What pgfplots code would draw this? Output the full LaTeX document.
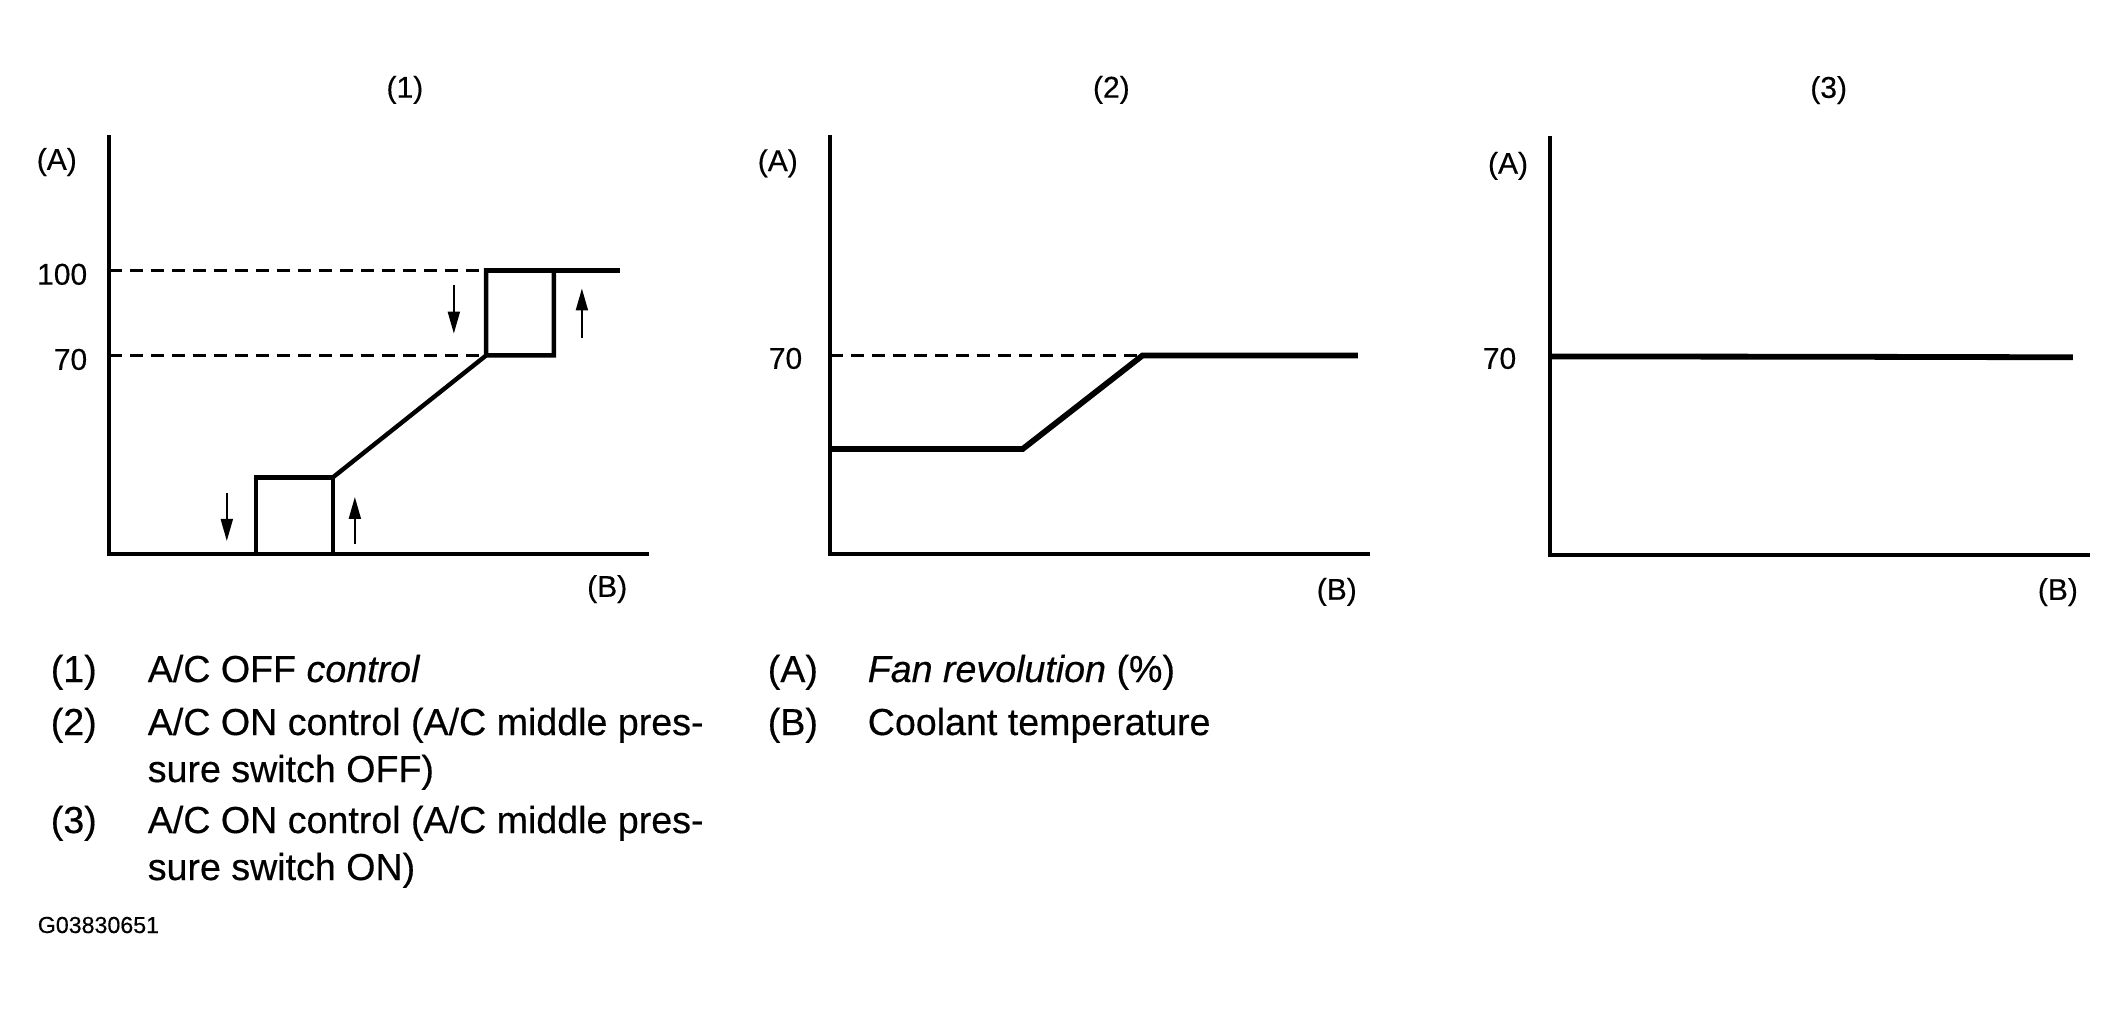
\documentclass[border=0pt]{standalone}
\usepackage{fontspec}
\setmainfont{Liberation Sans}[FakeBold=0.4]
\usepackage{pgfplots}
\pgfplotsset{compat=1.18}
\usetikzlibrary{arrows.meta}
\newcommand\axfont{\fontsize{7.5pt}{9pt}\selectfont}
\newcommand\legfont{\fontsize{9.4pt}{11pt}\selectfont}
\pgfplotsset{
 panel/.style={
  scale only axis, width=134.5pt, height=104.25pt, anchor=south west,
  xmin=0,xmax=100,ymin=0,ymax=147,
  axis lines*=left, axis line style={line width=0.9pt, line cap=rect},
  xtick=\empty, major tick length=0pt, ytick style={draw=none},
  clip=false,
  /pgf/number format/assume math mode=true,
  tick label style={font=\axfont},
  xlabel={(B)}, ylabel={(A)},
  xlabel style={font=\axfont},
 },
 curve/.style={black, line width=1.1pt, no marks},
 thick curve/.style={black, line width=1.45pt, no marks},
 dashline/.style={black, line width=0.75pt, dash pattern=on 3.25pt off 2pt, no marks},
 arr/.style={black, line width=0.5pt, no marks, -{Triangle[length=5.5pt,width=3pt]}},
}
\begin{document}
\begin{tikzpicture}
\useasboundingbox (0,0) rectangle (531pt,-252.25pt);
% ---------------- panel (1)
\begin{axis}[panel, at={(27.25pt,-138.5pt)},
  title={(1)},
  every axis title/.style={at={(axis description cs:0.55,1.113)},anchor=center,font=\axfont},
  xlabel style={at={(axis description cs:0.926,-0.084)},anchor=center},
  every axis y label/.style={at={(axis description cs:-0.097,0.94)},anchor=center,font=\axfont},
  ytick={70,100},
  yticklabel style={inner sep=0pt,anchor=east,xshift=-5.25pt,yshift=-1pt}]
\addplot[dashline] coordinates {(0,100)(70.1,100)};
\addplot[dashline] coordinates {(0,70)(70.1,70)};
\addplot[curve] coordinates {(27.3,0)(27.3,27)(41.6,27)(41.6,0)};
\addplot[curve] coordinates {(41.6,27)(70.1,70)(82.7,70)(82.7,100)(70.1,100)(70.1,70)};
\addplot[curve] coordinates {(70.1,100)(95,100)};
\addplot[arr] coordinates {(64.1,95)(64.1,77.7)};
\addplot[arr] coordinates {(87.9,76.2)(87.9,93.6)};
\addplot[arr] coordinates {(21.9,21.5)(21.9,4.6)};
\addplot[arr] coordinates {(45.7,3.5)(45.7,20.1)};
\end{axis}
% ---------------- panel (2)
\begin{axis}[panel, at={(207.5pt,-138.5pt)},
  title={(2)},
  every axis title/.style={at={(axis description cs:0.523,1.113)},anchor=center,font=\axfont},
  xlabel style={at={(axis description cs:0.942,-0.091)},anchor=center},
  every axis y label/.style={at={(axis description cs:-0.097,0.937)},anchor=center,font=\axfont},
  ytick={70},
  yticklabel style={inner sep=0pt,anchor=east,xshift=-6.75pt,yshift=-0.75pt}]
\addplot[dashline] coordinates {(0,70)(58.1,70)};
\addplot[thick curve] coordinates {(0,37)(35.8,37)(58.1,70)(98.1,70)};
\end{axis}
% ---------------- panel (3)
\begin{axis}[panel, at={(387.5pt,-138.75pt)},
  title={(3)},
  every axis title/.style={at={(axis description cs:0.518,1.115)},anchor=center,font=\axfont},
  xlabel style={at={(axis description cs:0.944,-0.089)},anchor=center},
  every axis y label/.style={at={(axis description cs:-0.078,0.933)},anchor=center,font=\axfont},
  ytick={70},
  yticklabel style={inner sep=0pt,anchor=east,xshift=-8.25pt,yshift=-0.5pt}]
\addplot[thick curve] coordinates {(0,70)(50,69.9)(97.2,69.7)};
\end{axis}
% ---------------- key
\begin{scope}[every node/.style={anchor=base west, inner sep=0pt, font=\legfont}]
\node at (12.5pt,-170.5pt) {(1)};
\node at (36.75pt,-170.5pt) {A/C OFF \textit{control}};
\node at (12.5pt,-183.75pt) {(2)};
\node at (36.75pt,-183.75pt) {A/C ON control (A/C middle pres-};
\node at (36.75pt,-195.5pt) {sure switch OFF)};
\node at (12.5pt,-208.25pt) {(3)};
\node at (36.75pt,-208.25pt) {A/C ON control (A/C middle pres-};
\node at (36.75pt,-220pt) {sure switch ON)};
\node at (191.75pt,-170.5pt) {(A)};
\node at (216.75pt,-170.5pt) {\textit{Fan revolution} (\%)};
\node at (191.75pt,-183.75pt) {(B)};
\node at (216.75pt,-183.75pt) {Coolant temperature};
\node[font=\fontsize{5.8pt}{7pt}\selectfont] at (9.25pt,-233.25pt) {G03830651};
\end{scope}
\end{tikzpicture}
\end{document}
